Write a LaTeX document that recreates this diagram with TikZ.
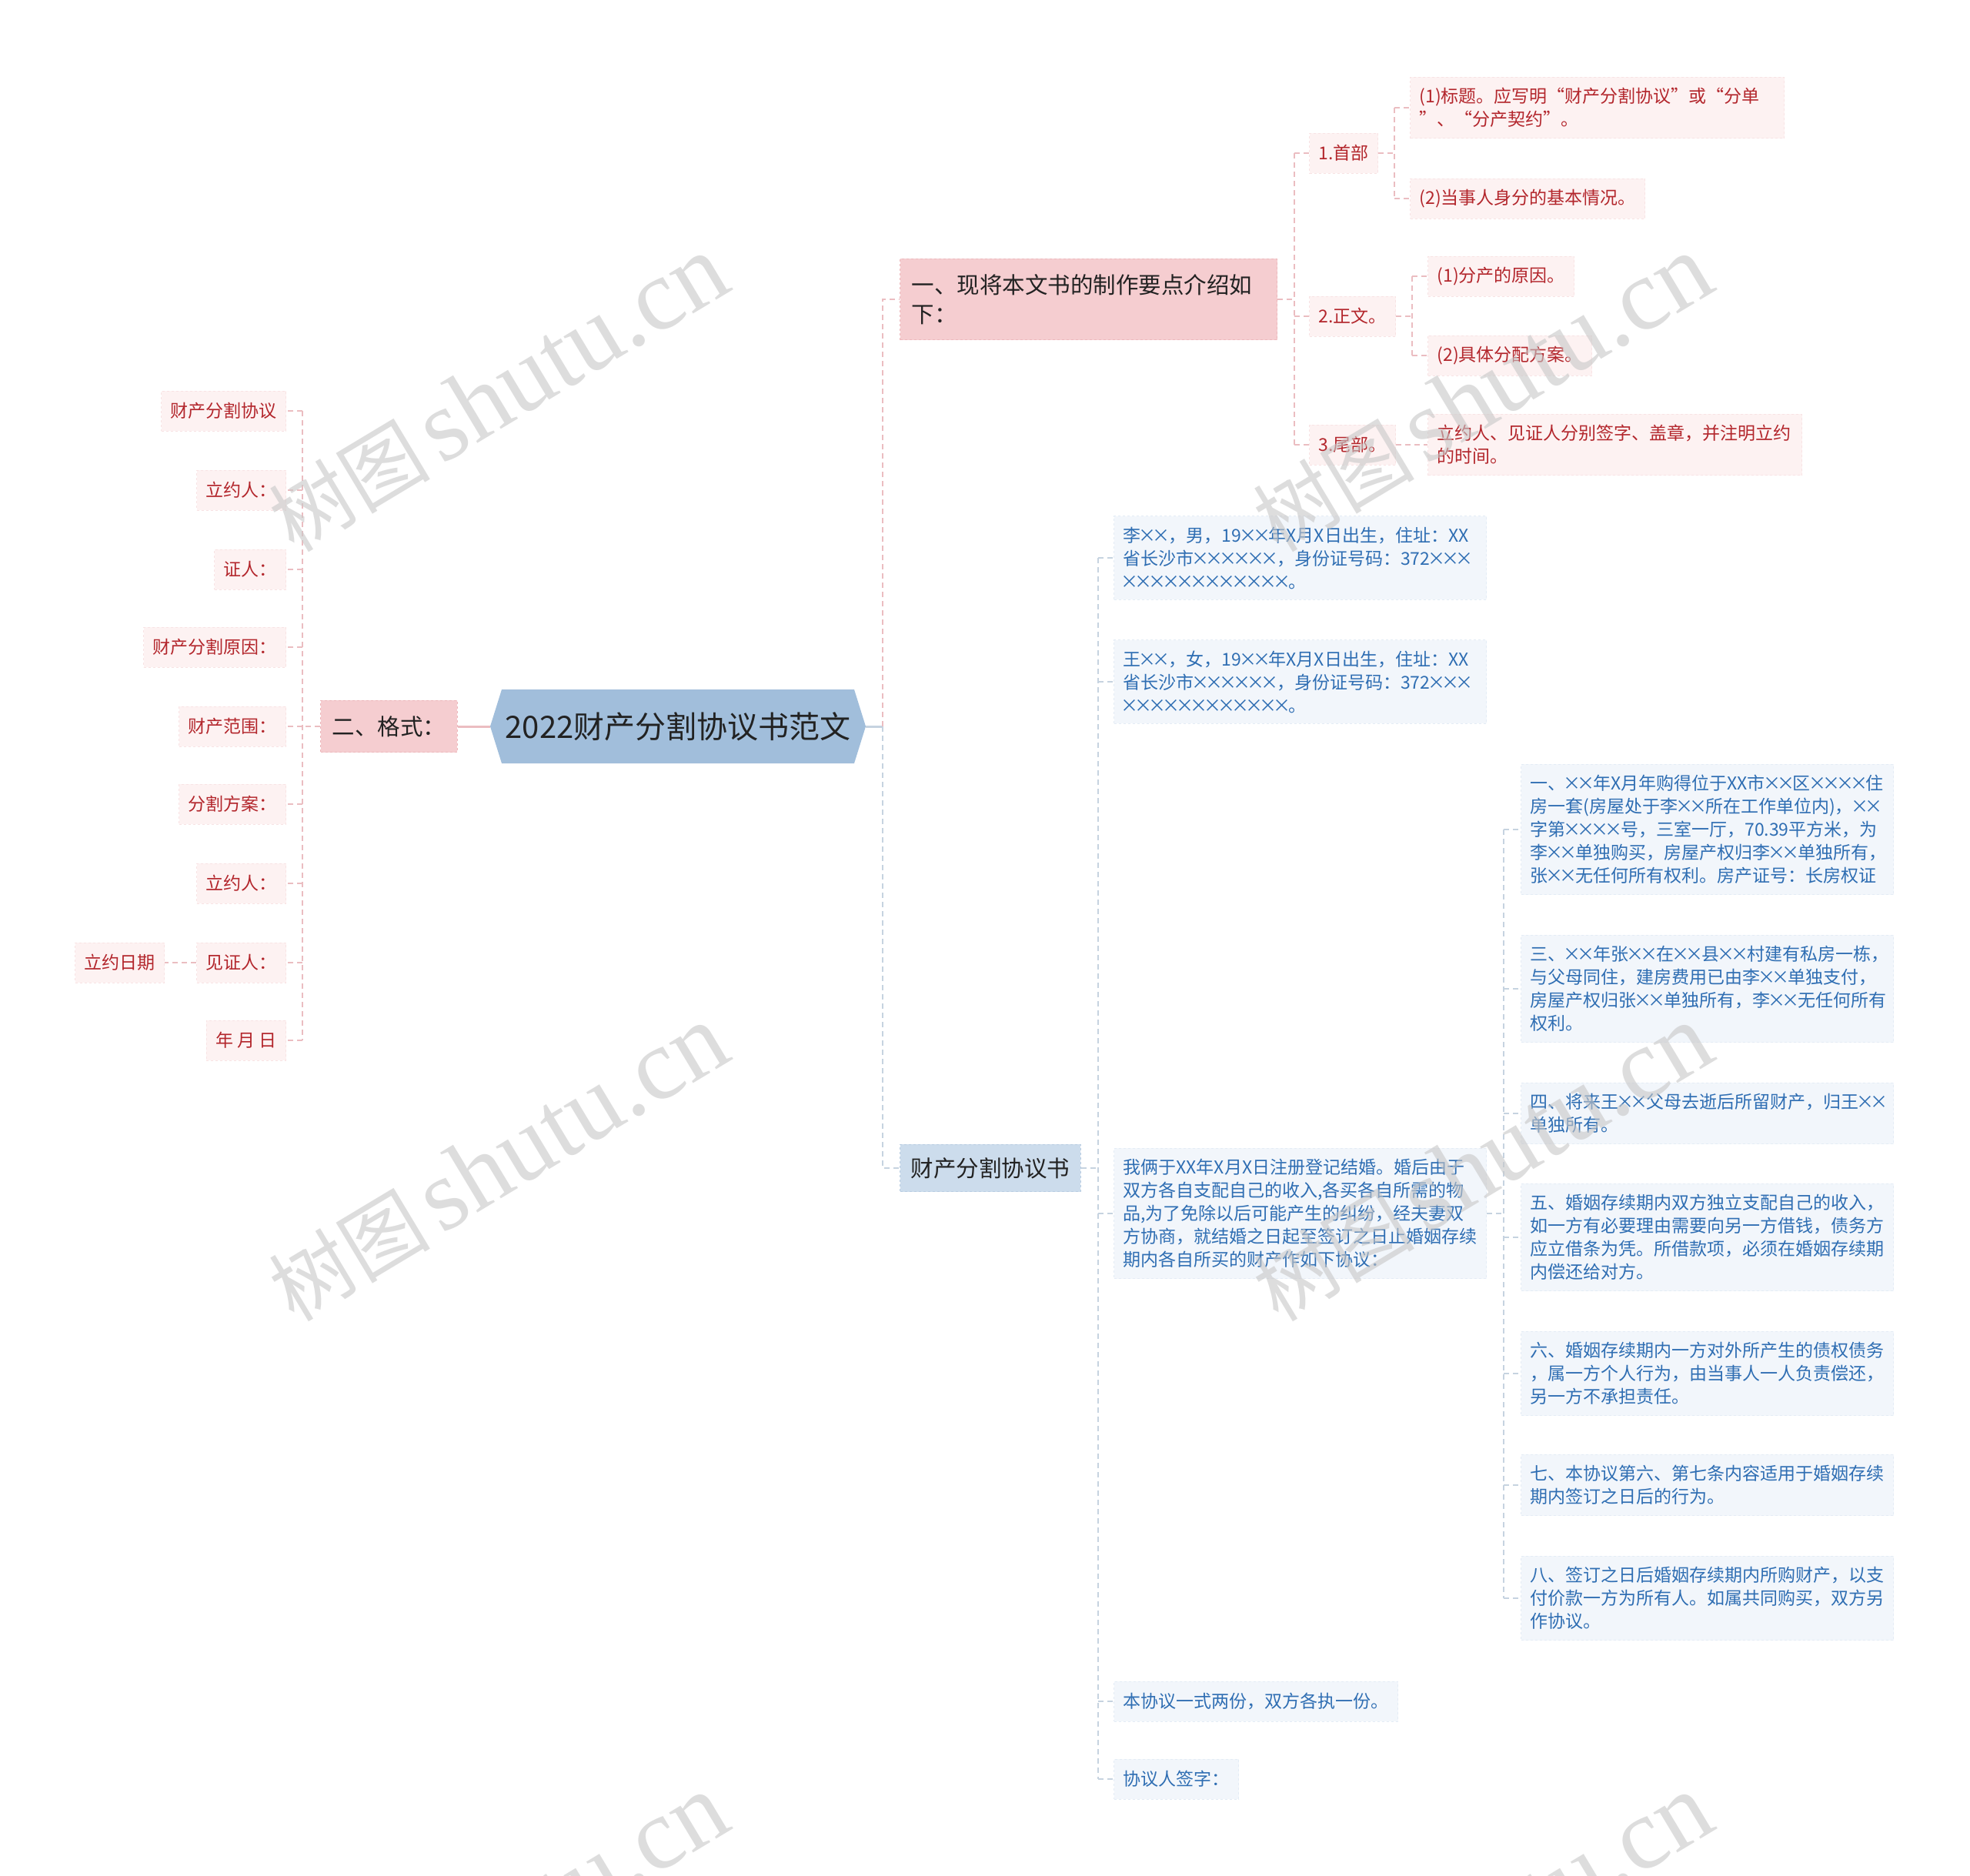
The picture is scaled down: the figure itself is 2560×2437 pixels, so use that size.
\documentclass[tikz,border=0pt]{standalone}
\usepackage{fontspec}
\setmainfont{Noto Sans CJK SC}
\newfontfamily\wmserif{Liberation Serif}
\newcommand\xm{\makebox[0.78em]{×}}
\definecolor{hexfill}{HTML}{A1BEDB}
\definecolor{mainpink}{HTML}{F5CDD0}
\definecolor{mainpinkb}{HTML}{EDB8BC}
\definecolor{leafpink}{HTML}{FDF2F2}
\definecolor{leafpinkb}{HTML}{F8E3E4}
\definecolor{redtext}{HTML}{B3262C}
\definecolor{leafblue}{HTML}{F2F6FB}
\definecolor{leafblueb}{HTML}{E4ECF5}
\definecolor{bluetext}{HTML}{2F6EB3}
\definecolor{agrfill}{HTML}{CCDCEC}
\definecolor{agrb}{HTML}{B9CDE2}
\definecolor{linkpink}{HTML}{EBBDC1}
\definecolor{linkblue}{HTML}{C6D3E0}
\definecolor{darktext}{HTML}{222222}
\begin{document}
\begin{tikzpicture}[x=1pt,y=-1pt,
  plink/.style={draw=linkpink, line width=2pt, dash pattern=on 7pt off 5pt},
  blink/.style={draw=linkblue, line width=2pt, dash pattern=on 7pt off 5pt},
  plinksolid/.style={draw=linkpink, line width=3pt},
  blinksolid/.style={draw=linkblue, line width=3pt},
  mainbox/.style={fill=mainpink, draw=mainpinkb, line width=1.2pt, dashed, text=darktext,
    font=\fontsize{29.5}{38}\selectfont, inner xsep=15pt, inner ysep=20pt, align=left},
  redleaf/.style={fill=leafpink, draw=leafpinkb, line width=1pt, dashed, text=redtext,
    font=\fontsize{23}{30}\selectfont, inner xsep=12pt, inner ysep=14pt, minimum height=52pt},
  redwide/.style={redleaf, text width=462pt, align=left},
  blueleaf/.style={fill=leafblue, draw=leafblueb, line width=1pt, dashed, text=bluetext,
    font=\fontsize{23}{30}\selectfont, inner xsep=12pt, inner ysep=14pt, minimum height=52pt},
  bluewide/.style={blueleaf, text width=460pt, align=left},
  wmark/.style={text=black!22, opacity=0.6, rotate=31, inner sep=0pt}
]
\useasboundingbox (0,0) rectangle (2560,2437);
\fill[white] (0,0) rectangle (2560,2437);

% root
\fill[hexfill] (637,944) -- (652,896) -- (1110,896) -- (1125,944) -- (1110,992) -- (652,992) -- cycle;
\node[minimum width=488pt, minimum height=96pt, inner sep=0pt, text=darktext,
  font=\fontsize{40}{40}\selectfont] (root) at (881,944) {2022财产分割协议书范文};

% left branch
\node[mainbox, anchor=west] (fmt) at (416,944) {二、格式：};
\node[redleaf, anchor=east] (l1) at (372,534) {财产分割协议};
\node[redleaf, anchor=east] (l2) at (372,637) {立约人：};
\node[redleaf, anchor=east] (l3) at (372,740) {证人：};
\node[redleaf, anchor=east] (l4) at (372,841) {财产分割原因：};
\node[redleaf, anchor=east] (l5) at (372,944) {财产范围：};
\node[redleaf, anchor=east] (l6) at (372,1045) {分割方案：};
\node[redleaf, anchor=east] (l7) at (372,1148) {立约人：};
\node[redleaf, anchor=east] (l8) at (372,1251) {见证人：};
\node[redleaf, anchor=east] (l9) at (372,1352) {年 月 日};
\node[redleaf, anchor=east] (l8b) at (214,1251) {立约日期};

\coordinate (lbus) at (393,944);
\draw[plinksolid] (root.west) -- (fmt.east);
\draw[plink] (fmt.west) -- (fmt.west -| lbus);
\draw[plink] (l1.east -| lbus) -- (l9.east -| lbus);
\foreach \i in {1,...,9} { \draw[plink] (l\i.east -| lbus) -- (l\i.east); }
\draw[plink] (l8.west) -- (l8b.east);

% upper right branch
\node[mainbox, anchor=west, text width=460pt] (one) at (1169,389) {一、现将本文书的制作要点介绍如\\下：};
\node[redleaf, anchor=west] (s1) at (1701,199) {1.首部};
\node[redleaf, anchor=west] (s2) at (1701,411) {2.正文。};
\node[redleaf, anchor=west] (s3) at (1701,578) {3.尾部。};
\node[redwide, anchor=west] (c11) at (1832,140) {(1)标题。应写明“财产分割协议”或“分单\\”、“分产契约”。};
\node[redleaf, anchor=west] (c12) at (1832,258) {(2)当事人身分的基本情况。};
\node[redleaf, anchor=west] (c21) at (1855,359) {(1)分产的原因。};
\node[redleaf, anchor=west] (c22) at (1855,462) {(2)具体分配方案。};
\node[redwide, anchor=west] (c31) at (1855,578) {立约人、见证人分别签字、盖章，并注明立约\\的时间。};

\coordinate (rbus) at (1147,944);
\draw[blinksolid] (root.east) -- (rbus);
\draw[plink] (rbus) -- (one.west -| rbus) -- (one.west);
\coordinate (ubus) at (1682,0);
\draw[plink] (one.east) -- (one.east -| ubus);
\draw[plink] (s1.west -| ubus) -- (s3.west -| ubus);
\foreach \i in {1,2,3} { \draw[plink] (s\i.west -| ubus) -- (s\i.west); }
\coordinate (s1bus) at (1812,0);
\draw[plink] (s1.east) -- (s1.east -| s1bus);
\draw[plink] (c11.west -| s1bus) -- (c12.west -| s1bus);
\draw[plink] (c11.west -| s1bus) -- (c11.west);
\draw[plink] (c12.west -| s1bus) -- (c12.west);
\coordinate (s2bus) at (1835,0);
\draw[plink] (s2.east) -- (s2.east -| s2bus);
\draw[plink] (c21.west -| s2bus) -- (c22.west -| s2bus);
\draw[plink] (c21.west -| s2bus) -- (c21.west);
\draw[plink] (c22.west -| s2bus) -- (c22.west);
\draw[plink] (s3.east) -- (c31.west);

% lower right branch
\node[fill=agrfill, draw=agrb, line width=1.2pt, dashed, text=darktext,
  font=\fontsize{29.5}{38}\selectfont, inner xsep=14pt, inner ysep=17pt, anchor=west] (agr) at (1169,1518) {财产分割协议书};
\draw[blink] (rbus) -- (agr.west -| rbus) -- (agr.west);

\node[bluewide, anchor=west] (b1) at (1447,725) {李\xm\xm，男，19\xm\xm 年X月X日出生，住址：XX\\省长沙市\xm\xm\xm\xm\xm\xm，身份证号码：372\xm\xm\xm\\\xm\xm\xm\xm\xm\xm\xm\xm\xm\xm\xm\xm。};
\node[bluewide, anchor=west] (b2) at (1447,886) {王\xm\xm，女，19\xm\xm 年X月X日出生，住址：XX\\省长沙市\xm\xm\xm\xm\xm\xm，身份证号码：372\xm\xm\xm\\\xm\xm\xm\xm\xm\xm\xm\xm\xm\xm\xm\xm。};
\node[bluewide, anchor=west] (b3) at (1447,1577) {我俩于XX年X月X日注册登记结婚。婚后由于\\双方各自支配自己的收入,各买各自所需的物\\品,为了免除以后可能产生的纠纷，经夫妻双\\方协商，就结婚之日起至签订之日止婚姻存续\\期内各自所买的财产作如下协议：};
\node[blueleaf, anchor=west] (b4) at (1447,2211) {本协议一式两份，双方各执一份。};
\node[blueleaf, anchor=west] (b5) at (1447,2312) {协议人签字：};

\coordinate (abus) at (1427,0);
\draw[blink] (agr.east) -- (agr.east -| abus);
\draw[blink] (b1.west -| abus) -- (b5.west -| abus);
\foreach \i in {1,...,5} { \draw[blink] (b\i.west -| abus) -- (b\i.west); }

\node[bluewide, anchor=west] (d1) at (1976,1078) {一、\xm\xm 年X月年购得位于XX市\xm\xm 区\xm\xm\xm\xm 住\\房一套(房屋处于李\xm\xm 所在工作单位内)，\xm\xm\\字第\xm\xm\xm\xm 号，三室一厅，70.39平方米，为\\李\xm\xm 单独购买，房屋产权归李\xm\xm 单独所有，\\张\xm\xm 无任何所有权利。房产证号：长房权证};
\node[bluewide, anchor=west] (d2) at (1976,1285) {三、\xm\xm 年张\xm\xm 在\xm\xm 县\xm\xm 村建有私房一栋，\\与父母同住，建房费用已由李\xm\xm 单独支付，\\房屋产权归张\xm\xm 单独所有，李\xm\xm 无任何所有\\权利。};
\node[bluewide, anchor=west] (d3) at (1976,1447) {四、将来王\xm\xm 父母去逝后所留财产，归王\xm\xm\\单独所有。};
\node[bluewide, anchor=west] (d4) at (1976,1608) {五、婚姻存续期内双方独立支配自己的收入，\\如一方有必要理由需要向另一方借钱，债务方\\应立借条为凭。所借款项，必须在婚姻存续期\\内偿还给对方。};
\node[bluewide, anchor=west] (d5) at (1976,1785) {六、婚姻存续期内一方对外所产生的债权债务\\，属一方个人行为，由当事人一人负责偿还，\\另一方不承担责任。};
\node[bluewide, anchor=west] (d6) at (1976,1930) {七、本协议第六、第七条内容适用于婚姻存续\\期内签订之日后的行为。};
\node[bluewide, anchor=west] (d7) at (1976,2077) {八、签订之日后婚姻存续期内所购财产，以支\\付价款一方为所有人。如属共同购买，双方另\\作协议。};

\coordinate (dbus) at (1954,0);
\draw[blink] (b3.east) -- (b3.east -| dbus);
\draw[blink] (d1.west -| dbus) -- (d7.west -| dbus);
\foreach \i in {1,...,7} { \draw[blink] (d\i.west -| dbus) -- (d\i.west); }

% watermarks
\newcommand\wmtext{{\fontsize{105}{105}\selectfont 树图}\hspace{14pt}{\wmserif\fontsize{132}{132}\selectfont shutu.cn}}
\node[wmark] (w1) at (647,512) {\wmtext};
\node[wmark] (w2) at (647,1512) {\wmtext};
\node[wmark] (w3) at (647,2512) {\wmtext};
\node[wmark] (w4) at (1926,512) {\wmtext};
\node[wmark] (w5) at (1926,1512) {\wmtext};
\node[wmark] (w6) at (1926,2512) {\wmtext};
\end{tikzpicture}
\end{document}
